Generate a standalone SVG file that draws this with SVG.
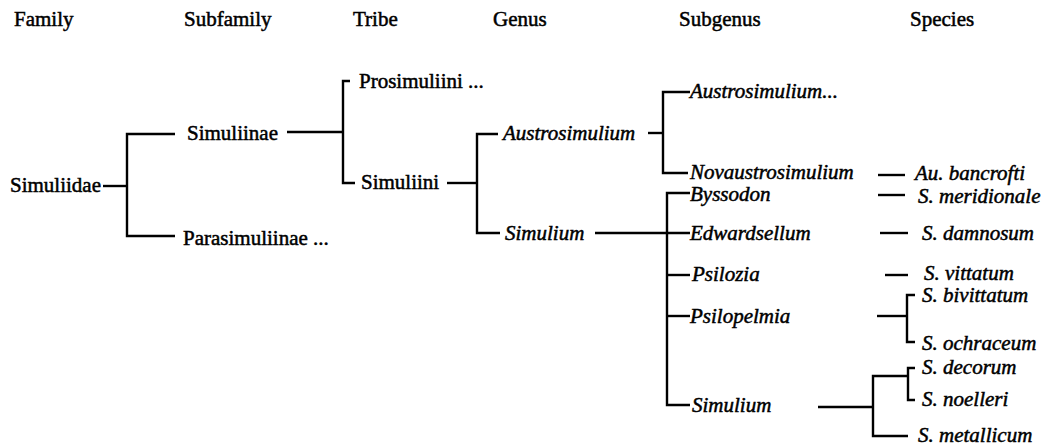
<svg xmlns="http://www.w3.org/2000/svg" width="1054" height="447" viewBox="0 0 1054 447">
<style>
.t text{font-size:21px;fill:#000;stroke:#000;stroke-width:0.5}
.i{font-style:italic}
.c path{fill:none;stroke:#000;stroke-width:2.4;stroke-linejoin:miter}
</style>
<rect width="1054" height="447" fill="#fff"/>
<g class="c" id="connectors">
<path d="M103,186 H127"/>
<path d="M175,134 H127 V236 H175"/>
<path d="M287,132 H343"/>
<path d="M350,81 H343 V183 H355"/>
<path d="M447,183 H477"/>
<path d="M498,134 H477 V233 H500"/>
<path d="M648,133 H663"/>
<path d="M690,92 H663 V173 H688"/>
<path d="M595,233 H690"/>
<path d="M690,193 H667 V405 H690"/>
<path d="M667,275 H690"/>
<path d="M667,316 H690"/>
<path d="M878,175 H905"/>
<path d="M878,195 H905"/>
<path d="M880,233 H908"/>
<path d="M885,275 H908"/>
<path d="M877,316 H907"/>
<path d="M915,295 H907 V342 H915"/>
<path d="M818,407 H873"/>
<path d="M908,376 H873 V436 H908"/>
<path d="M915,368 H908 V400 H915"/>
</g>
<g class="t" font-family="Liberation Serif, Times New Roman, serif">
<g id="headers">
<text x="14" y="26">Family</text>
<text x="184" y="26">Subfamily</text>
<text x="353" y="26">Tribe</text>
<text x="493" y="26">Genus</text>
<text x="679" y="26">Subgenus</text>
<text x="910" y="26">Species</text>
</g>
<g id="n-simuliidae"><text x="10" y="192">Simuliidae</text></g>
<g id="n-simuliinae"><text x="187" y="140">Simuliinae</text></g>
<g id="n-parasimuliinae"><text x="183" y="245">Parasimuliinae ...</text></g>
<g id="n-prosimuliini"><text x="359" y="88">Prosimuliini ...</text></g>
<g id="n-simuliini"><text x="361" y="189">Simuliini</text></g>
<g id="n-g-austrosimulium"><text class="i" x="503" y="140">Austrosimulium</text></g>
<g id="n-g-simulium"><text class="i" x="505" y="240">Simulium</text></g>
<g id="n-sg-austrosimulium"><text class="i" x="690" y="98">Austrosimulium...</text></g>
<g id="n-sg-novaustrosimulium"><text class="i" x="690" y="179">Novaustrosimulium</text></g>
<g id="n-sg-byssodon"><text class="i" x="690" y="201">Byssodon</text></g>
<g id="n-sg-edwardsellum"><text class="i" x="690" y="240">Edwardsellum</text></g>
<g id="n-sg-psilozia"><text class="i" x="692" y="281">Psilozia</text></g>
<g id="n-sg-psilopelmia"><text class="i" x="690" y="323">Psilopelmia</text></g>
<g id="n-sg-simulium"><text class="i" x="692" y="412">Simulium</text></g>
<g id="n-sp-bancrofti"><text class="i" x="915" y="180">Au. bancrofti</text></g>
<g id="n-sp-meridionale"><text class="i" x="918" y="203">S. meridionale</text></g>
<g id="n-sp-damnosum"><text class="i" x="922" y="240">S. damnosum</text></g>
<g id="n-sp-vittatum"><text class="i" x="924" y="280">S. vittatum</text></g>
<g id="n-sp-bivittatum"><text class="i" x="922" y="302">S. bivittatum</text></g>
<g id="n-sp-ochraceum"><text class="i" x="922" y="350">S. ochraceum</text></g>
<g id="n-sp-decorum"><text class="i" x="922" y="374">S. decorum</text></g>
<g id="n-sp-noelleri"><text class="i" x="922" y="406">S. noelleri</text></g>
<g id="n-sp-metallicum"><text class="i" x="918" y="442">S. metallicum</text></g>
</g>
</svg>
